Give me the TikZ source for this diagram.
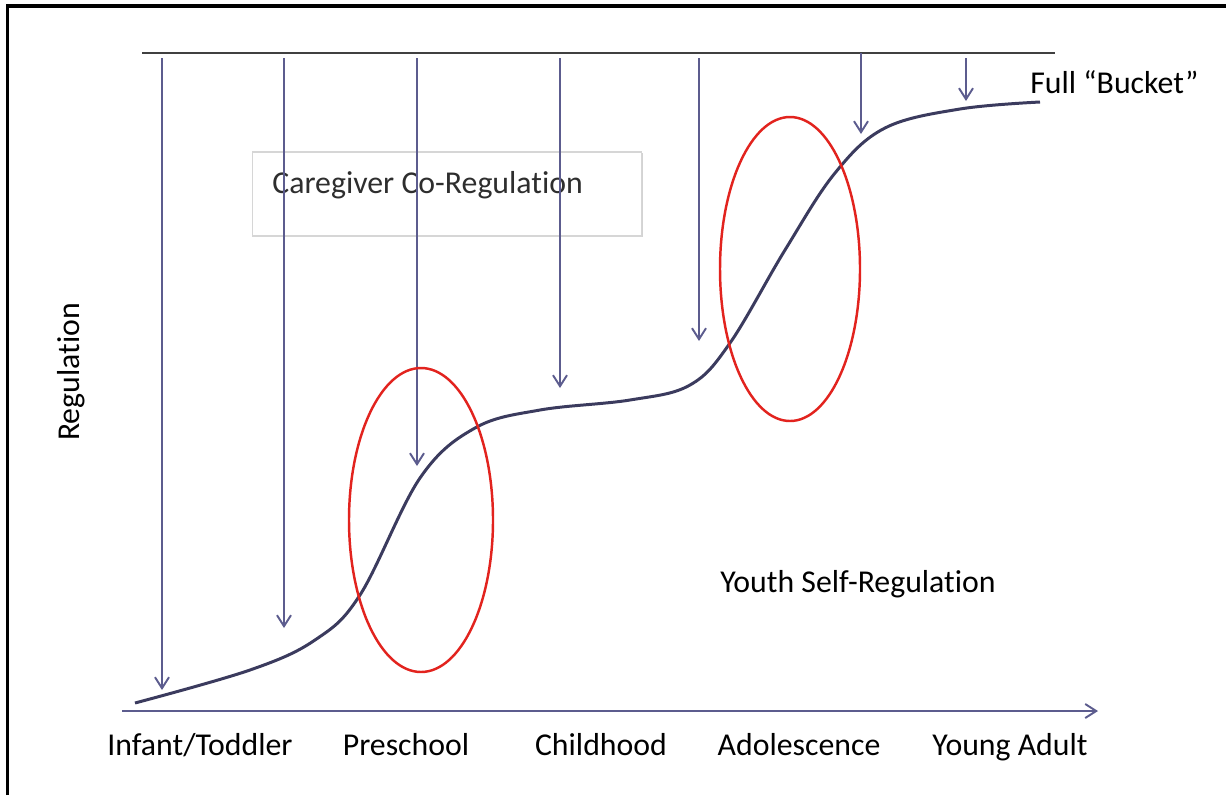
\documentclass[tikz,border=0pt]{standalone}
\usepackage{fontspec}
\setmainfont{Carlito}[Ligatures={TeX,NoCommon}]
\usepackage{tikz}
\usetikzlibrary{arrows.meta,positioning,shadows}

\definecolor{arrowblue}{HTML}{5C5C8E}
\definecolor{curvenavy}{HTML}{3B3B5E}
\definecolor{ringred}{HTML}{E2231E}
\definecolor{boxgray}{HTML}{D6D6D6}
\definecolor{textgray}{HTML}{2E2E2E}

\begin{document}
\begin{tikzpicture}[x=0.02cm,y=-0.02cm,
    push/.style={draw=arrowblue, line width=1.1pt, -{Straight Barb[length=2.2mm,width=2.8mm]}},
    stage/.style={anchor=base, inner sep=0pt, font=\fontsize{18.1}{21}\selectfont},
    ring/.style={draw=ringred, line width=1.4pt},
    cgbox/.style={draw=boxgray, fill=white, line width=0.6pt, minimum width=7.8cm, minimum height=1.68cm,
        drop shadow={shadow xshift=0.6pt, shadow yshift=-0.6pt, opacity=0.35}}]
    \useasboundingbox (0,0) rectangle (1226,795);

    % Frame (cropped slide)
    \draw[line width=2pt] (7.5,795) -- (7.5,6) -- (1226,6);

    % Caregiver box
    \node[cgbox] (cgbox) at (447,194) {};
    \node[stage, anchor=base west, text=textgray] (cgtext) at (272,193) {Caregiver Co-Regulation};

    % Full bucket line
    \coordinate (fullL) at (142,53);
    \coordinate (fullR) at (1055,53);
    \draw[draw=black!75, line width=1.1pt] (fullL) -- (fullR);
    \node[stage, anchor=base west] (bucket) at (1030,93) {Full “Bucket”};

    % Co-regulation arrows
    \foreach \x/\ytop/\ytip [count=\i] in {162/58/690, 284/58/628, 417/58/466, 560/58/388,
                                           699/58/341, 861/53/134, 966/58/101} {
        \coordinate (top\i) at (\x,\ytop);
        \coordinate (tip\i) at (\x,\ytip);
        \draw[push] (top\i) -- (tip\i);
    }

    % Self-regulation curve
    \draw[draw=curvenavy, line width=1.7pt] plot[smooth, tension=0.6] coordinates {
        (135,703) (250,670) (315,640) (360,595) (420,478) (475,428) (540,410)
        (630,400) (690,385) (730,343) (785,250) (835,173) (885,128) (960,109) (1040,102)};

    % Transition rings
    \draw[ring] (421,520) ellipse [x radius=72, y radius=152];
    \draw[ring] (790,269) ellipse [x radius=70, y radius=152];

    % Axis
    \coordinate (origin) at (122,711);
    \coordinate (tend) at (1098,711);
    \draw[push] (origin) -- (tend);
    \node[stage, rotate=90, anchor=center] (ylab) at (71,372) {Regulation};
    \node[stage] (youth) at (858,592) {Youth Self-Regulation};

    % Stages
    \node[stage] (infant) at (200,755) {Infant/Toddler};
    \node[stage] (pre) at (406,755) {Preschool};
    \node[stage] (child) at (601,755) {Childhood};
    \node[stage] (adol) at (799,755) {Adolescence};
    \node[stage] (young) at (1010,755) {Young Adult};
\end{tikzpicture}
\end{document}
